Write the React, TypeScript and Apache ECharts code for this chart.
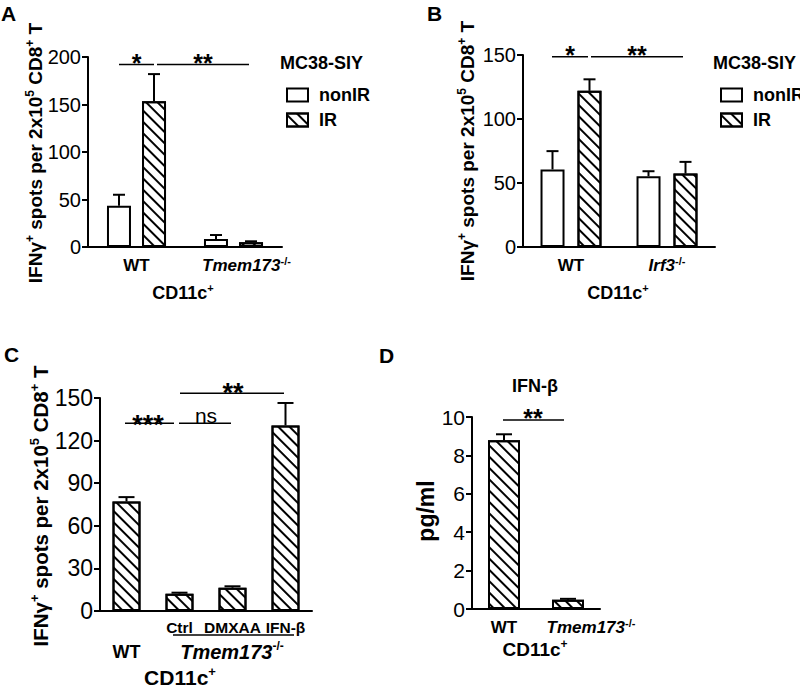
import React, { useEffect, useRef } from 'react';
import * as echarts from 'echarts';

const FONT = '"Liberation Sans", Arial, Helvetica, sans-serif';

// ---------- data ----------
const catsA = ['WT', 'Tmem173-/-'];
const nonIrA = [43.5, 8.4];
const nonIrErrA = [11.5, 4.2];
const irA = [153.5, 5.0];
const irErrA = [28.5, 1.0];

const catsB = ['WT', 'Irf3-/-'];
const nonIrB = [60.6, 55.3];
const nonIrErrB = [14.3, 3.9];
const irB = [122, 57.4];
const irErrB = [9, 9.1];

const catsC = ['WT', 'Ctrl', 'DMXAA', 'IFN-β'];
const valsC = [77.2, 12.2, 16.4, 130.7];
const errC = [3.0, 0.7, 1.0, 15.8];

const catsD = ['WT', 'Tmem173-/-'];
const valsD = [8.79, 0.48];
const errD = [0.31, 0.05];

const yMax = [200, 150, 150, 10];
const yStep = [50, 50, 30, 2];
const legendNames = ['nonIR', 'IR'];

// ---------- layout ----------
const GRIDS = [
  { left: 88, top: 57, width: 194, height: 190 },
  { left: 523, top: 55, width: 192, height: 192 },
  { left: 100, top: 398, width: 212, height: 213 },
  { left: 472, top: 417, width: 128, height: 192 },
];
const TICK_FS = [20, 20, 23, 21];

const HATCH = {
  symbol: 'rect',
  symbolSize: 1,
  color: '#000',
  dashArrayX: [1, 0],
  dashArrayY: [2, 6],
  rotation: Math.PI / 4,
};

const plainStyle = { color: '#fff', borderColor: '#000', borderWidth: 2 };
const hatchStyle = { color: '#fff', borderColor: '#000', borderWidth: 2, decal: HATCH };

function axisRich(fs: number, padLeftItalic = 0) {
  return {
    b: { fontSize: fs, fontWeight: 'bold', fontFamily: FONT, color: '#000', lineHeight: Math.round(fs * 1.2) },
    i: {
      fontSize: fs, fontWeight: 'bold', fontStyle: 'italic', fontFamily: FONT, color: '#000',
      lineHeight: Math.round(fs * 1.2), padding: [0, 0, 0, padLeftItalic],
    },
    sup: { fontSize: Math.round(fs * 0.62), fontWeight: 'bold', fontFamily: FONT, color: '#000', lineHeight: Math.round(fs * 0.62), verticalAlign: 'top' },
    sm: { fontSize: 15.5, fontWeight: 'bold', fontFamily: FONT, color: '#000', lineHeight: 18 },
    wt: { fontSize: 18, fontWeight: 'bold', fontFamily: FONT, color: '#000', lineHeight: 22, padding: [46, 0, 0, 0] },
  };
}

function fmtCat(v: string) {
  if (v.endsWith('-/-')) return '{i|' + v.slice(0, -3) + '}{sup|-/-}';
  return '{b|' + v + '}';
}

function xAxis(gi: number, data: string[], fs: number, margin: number, formatter: any, rich: any) {
  return {
    type: 'category',
    gridIndex: gi,
    data,
    axisLine: { lineStyle: { color: '#000', width: 2 } },
    axisTick: { alignWithLabel: true, interval: 0, length: 6, lineStyle: { color: '#000', width: 2 } },
    axisLabel: { interval: 0, margin, formatter, rich, color: '#000', fontSize: fs, fontFamily: FONT },
  };
}

function yAxis(gi: number) {
  return {
    type: 'value',
    gridIndex: gi,
    min: 0,
    max: yMax[gi],
    interval: yStep[gi],
    axisLine: { show: true, lineStyle: { color: '#000', width: 2 } },
    axisTick: { show: true, length: 6, lineStyle: { color: '#000', width: 2 } },
    splitLine: { show: false },
    axisLabel: { color: '#000', fontSize: TICK_FS[gi], fontFamily: FONT, margin: 7 },
  };
}

function errSeries(gi: number, vals: number[], errs: number[], offset: number, capHalf: number) {
  return {
    type: 'custom',
    xAxisIndex: gi,
    yAxisIndex: gi,
    silent: true,
    z: 5,
    encode: { x: 0, y: [1, 2] },
    data: vals.map((v, i) => [i, v, v + errs[i]]),
    renderItem: (_p: any, api: any) => {
      const lo = api.coord([api.value(0), api.value(1)]);
      const hi = api.coord([api.value(0), api.value(2)]);
      const x = lo[0] + offset;
      return {
        type: 'group',
        children: [
          { type: 'line', shape: { x1: x, y1: lo[1], x2: x, y2: hi[1] }, style: { stroke: '#000', lineWidth: 2 } },
          { type: 'line', shape: { x1: x - capHalf, y1: hi[1], x2: x + capHalf, y2: hi[1] }, style: { stroke: '#000', lineWidth: 2 } },
        ],
      };
    },
  };
}

function gRich(fs: number) {
  return {
    b: { fontSize: fs, fontWeight: 'bold', fontFamily: FONT, fill: '#000', lineHeight: Math.round(fs * 1.2) },
    i: { fontSize: fs, fontWeight: 'bold', fontStyle: 'italic', fontFamily: FONT, fill: '#000', lineHeight: Math.round(fs * 1.2) },
    sup: { fontSize: Math.round(fs * 0.62), fontWeight: 'bold', fontFamily: FONT, fill: '#000', lineHeight: Math.round(fs * 0.55), verticalAlign: 'top' },
  };
}

function gText(x: number, y: number, text: string, fs: number, opt: any = {}) {
  return {
    type: 'text',
    x, y,
    rotation: opt.rot || 0,
    silent: true,
    style: {
      text,
      fontSize: fs,
      fontWeight: opt.weight || 'bold',
      fontStyle: opt.italic ? 'italic' : 'normal',
      fontFamily: FONT,
      fill: '#000',
      align: opt.align || 'center',
      verticalAlign: 'middle',
      rich: opt.rich ? gRich(fs) : undefined,
    },
  };
}

function gLine(x1: number, x2: number, y: number) {
  return { type: 'line', silent: true, shape: { x1, y1: y, x2, y2: y }, style: { stroke: '#000', lineWidth: 1.5 } };
}

const Y_TITLE = '{b|IFNγ}{sup|+}{b| spots per 2x10}{sup|5}{b| CD8}{sup|+}{b| T}';
const CD11C = '{b|CD11c}{sup|+}';

function legend(left: number) {
  return {
    left,
    top: 81,
    orient: 'vertical',
    icon: 'rect',
    itemWidth: 21,
    itemHeight: 13,
    itemGap: 7,
    selectedMode: false,
    data: legendNames,
    itemStyle: { borderColor: '#000', borderWidth: 2 },
    textStyle: { fontSize: 18, fontWeight: 'bold', fontFamily: FONT, color: '#000', lineHeight: 16, padding: [0, 0, 0, 6] },
  };
}

export default function App() {
  const ref = useRef<HTMLDivElement>(null);
  useEffect(() => {
    document.body.style.margin = '0';
    const chart = echarts.init(ref.current!, undefined, { renderer: 'svg' });
    const option: any = {
      animation: false,
      backgroundColor: '#fff',
      grid: GRIDS.map((g) => ({ ...g, containLabel: false })),
      xAxis: [
        xAxis(0, catsA, 17, 8, fmtCat, axisRich(17, 26)),
        xAxis(1, catsB, 17, 8, fmtCat, axisRich(17, 0)),
        xAxis(2, catsC, 15.5, 7, (v: string) => (v === 'WT' ? '{wt|WT}' : '{sm|' + v + '}'), axisRich(15.5, 0)),
        xAxis(3, catsD, 17, 8, fmtCat, axisRich(17, 46)),
      ],
      yAxis: [yAxis(0), yAxis(1), yAxis(2), yAxis(3)],
      legend: [legend(281), legend(715)],
      series: [
        { type: 'bar', name: 'nonIR', xAxisIndex: 0, yAxisIndex: 0, data: nonIrA, barWidth: 24, barGap: '46%', itemStyle: plainStyle },
        { type: 'bar', name: 'IR', xAxisIndex: 0, yAxisIndex: 0, data: irA, barWidth: 24, barGap: '46%', itemStyle: hatchStyle },
        errSeries(0, nonIrA, nonIrErrA, -17.5, 6),
        errSeries(0, irA, irErrA, 17.5, 6),
        { type: 'bar', name: 'nonIR', xAxisIndex: 1, yAxisIndex: 1, data: nonIrB, barWidth: 24, barGap: '54%', itemStyle: plainStyle },
        { type: 'bar', name: 'IR', xAxisIndex: 1, yAxisIndex: 1, data: irB, barWidth: 24, barGap: '54%', itemStyle: hatchStyle },
        errSeries(1, nonIrB, nonIrErrB, -18.5, 6),
        errSeries(1, irB, irErrB, 18.5, 6),
        { type: 'bar', name: 'C', xAxisIndex: 2, yAxisIndex: 2, data: valsC, barWidth: 28, itemStyle: hatchStyle },
        errSeries(2, valsC, errC, 0, 8),
        { type: 'bar', name: 'D', xAxisIndex: 3, yAxisIndex: 3, data: valsD, barWidth: 32, itemStyle: hatchStyle },
        errSeries(3, valsD, errD, 0, 8),
      ],
      graphic: [
        // panel letters
        gText(1, 13, 'A', 21, { align: 'left' }),
        gText(427, 13, 'B', 21, { align: 'left' }),
        gText(4, 354, 'C', 21, { align: 'left' }),
        gText(379, 355, 'D', 21, { align: 'left' }),
        // y titles
        gText(35, 153, Y_TITLE, 19, { rot: Math.PI / 2, rich: true }),
        gText(467, 151, Y_TITLE, 19, { rot: Math.PI / 2, rich: true }),
        gText(40, 506, Y_TITLE, 20.5, { rot: Math.PI / 2, rich: true }),
        gText(426, 511, 'pg/ml', 23, { rot: Math.PI / 2 }),
        // x group titles
        gText(183, 293, CD11C, 18, { rich: true }),
        gText(618, 293, CD11C, 18, { rich: true }),
        gText(180, 677, CD11C, 21, { rich: true }),
        gText(535, 649, CD11C, 19, { rich: true }),
        gText(232, 652, '{i|Tmem173}{sup|-/-}', 20, { rich: true }),
        gLine(173, 294, 635),
        // legend titles & D title
        gText(280, 63, 'MC38-SIY', 18, { align: 'left' }),
        gText(713, 63, 'MC38-SIY', 18, { align: 'left' }),
        gText(535, 386, 'IFN-β', 18),
        // significance
        gLine(119, 154, 64.5), gLine(157, 249, 64.5),
        gText(136.5, 63, '*', 25), gText(203, 63, '**', 25),
        gLine(552, 588, 56.7), gLine(591, 683, 56.7),
        gText(570, 55, '*', 25), gText(637, 55, '**', 25),
        gLine(125, 174, 423.3), gLine(179, 231, 423.3), gLine(180, 284, 393.3),
        gText(148, 424.5, '***', 27), gText(206, 415, 'ns', 21, { weight: 'normal' }), gText(233, 392.5, '**', 27),
        gLine(503, 564, 420),
        gText(533, 418, '**', 25),
      ],
    };
    chart.setOption(option);
    return () => chart.dispose();
  }, []);
  return <div ref={ref} style={{ width: 800, height: 688 }} />;
}
